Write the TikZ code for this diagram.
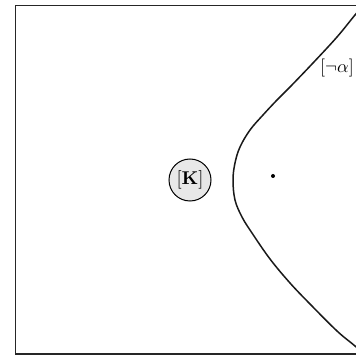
\documentclass[tikz,border=0pt]{standalone}
\usepackage{amssymb,amsmath}
\usepackage{tikz}
\colorlet{lightgrey}{black!9!white}

\begin{document}
\begin{tikzpicture}[x=1pt,y=1pt]

      \useasboundingbox (0,0) rectangle (356,356);
      \clip (0,0) rectangle (356,356);
      % frame, open to the right
      \draw [line width=1.8pt,black!85] (380,350.5) -- (15.5,350.5) -- (15.5,2) -- (380,2);
      % the boundary of [not alpha]
      \draw [line width=1.5pt,black!90] plot [smooth,tension=0.6] coordinates {(368,356) (355,341) (337,319) (313,293) (290,269) (277,256) (263,241) (250,226) (240,209) (235,193) (233,176) (235,156) (242,139) (252,123) (270,97) (290,73) (310,52) (337,25) (355,10) (368,-2)};
      \node [circle,draw,line width=1pt,fill=lightgrey,minimum size=42pt,inner sep=0pt] (K) at (190,176) {};
      \node [scale=1.85,transform shape] (Klabel) at (K) {$[\mathbf{K}]$};
      \node [circle,fill=black,inner sep=0pt,minimum size=4pt] (w) at (273,180) {};
      \node [scale=1.8,transform shape,inner sep=0pt] (notalpha) at (337,287.5) {$[\neg\alpha]$};

    \end{tikzpicture}
\end{document}
